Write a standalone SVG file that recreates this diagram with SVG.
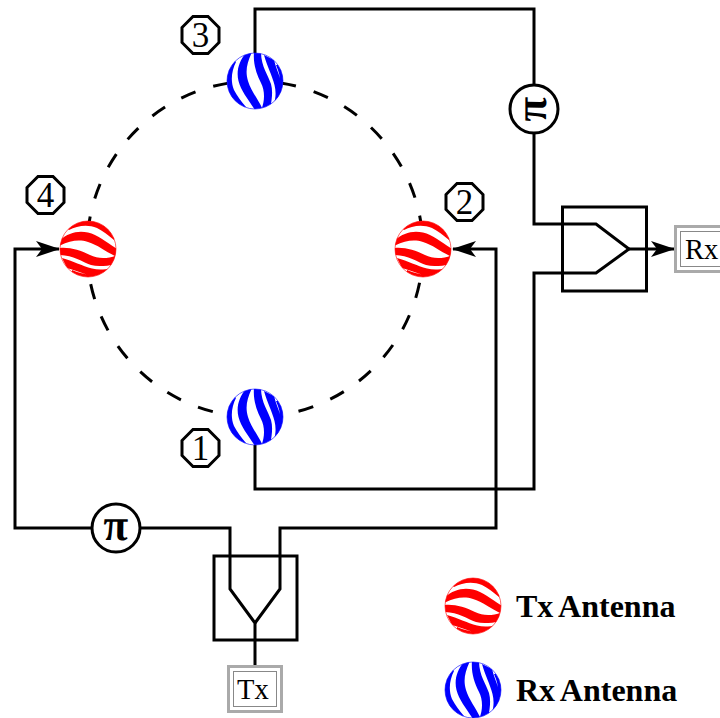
<svg xmlns="http://www.w3.org/2000/svg" width="720" height="718" viewBox="0 0 720 718">
<style>
.ln{fill:none;stroke:#000;stroke-width:3}
.oct{fill:#fff;stroke:#000;stroke-width:3}
.num{font:35px "Liberation Serif",serif;text-anchor:middle}
.pi{fill:#fff;stroke:#000;stroke-width:3}
.pit{font:italic bold 45px "Liberation Serif",serif;text-anchor:middle}
.o{fill:#fff;stroke:#aaa;stroke-width:3}
.i{fill:#fff;stroke:#888;stroke-width:1}
.lab{font:28.5px "Liberation Serif",serif}
.leg{font:bold 32px "Liberation Serif",serif;word-spacing:-1.500px}
</style>
<defs>
<clipPath id="c"><circle r="28"/></clipPath>
<g id="st" clip-path="url(#c)">
<circle r="28" fill="#fff"/>
<path d="M-28,-28L-19,-19C-11,-23 -1,-25 9,-21C15,-18 20,-14 26,-9L28,-28ZM-28,-9C-20,-16 -10,-19 0,-16.500C10,-14 18,-7 29,0L29,8C18,3 10,-4 0,-7C-10,-10 -18,-8 -29,-3ZM-29,-1C-18,-2 -8,1 2,6C10,10 20,10 29,6L29,15C18,17 10,18 3,16C-6,13 -15,6 -29,6ZM-26,9C-15,12 -6,17 4,19.500C10,21 16,21 23,19L17,26C10,27 5,27 0,26C-7,24 -13,21 -21,19ZM-16,21C-9,24 0,26.500 9,26L15,24L15,30L-16,30Z"/>
</g>
<g id="sp-r" fill="#f00"><use href="#st"/><circle r="28" fill="none" stroke="#f00" stroke-width=".6"/></g>
<g id="sp-b" fill="#00f"><use href="#st" transform="matrix(0 1 1 0 0 0)"/><circle r="28" fill="none" stroke="#00f" stroke-width=".6"/></g>
<marker id="ah" viewBox="0 0 24 16" refX="23" refY="8" markerWidth="24" markerHeight="16" markerUnits="userSpaceOnUse" orient="auto"><path d="M0,0L24,8L0,16L6,8Z"/></marker>
</defs>
<g id="ring"><circle cx="255" cy="249" r="168" fill="none" stroke="#000" stroke-width="3" stroke-dasharray="15.500 18.550"/></g>
<g id="connectors">
<path class="ln" d="M255,53V9H534V224H596L629,249L596,273H534V489H255V445"/>
<path class="ln" d="M629,249H674" marker-end="url(#ah)"/>
<path class="ln" d="M255,666V623L230,589V528H15V249H59" marker-end="url(#ah)"/>
<path class="ln" d="M255,623L280,589V528H496V249H453" marker-end="url(#ah)"/>
</g>
<g id="rx-split"><rect class="ln" x="562.500" y="207" width="84" height="84"/></g>
<g id="tx-split"><rect class="ln" x="214" y="556" width="83" height="84"/></g>
<g id="ant1"><use href="#sp-b" x="255" y="417"/></g>
<g id="ant2"><use href="#sp-r" x="423" y="249"/></g>
<g id="ant3"><use href="#sp-b" x="255" y="81"/></g>
<g id="ant4"><use href="#sp-r" x="88" y="249"/></g>
<g id="n1"><path class="oct" d="M193,429.500H208L219,440.500V455.500L208,466.500H193L182,455.500V440.500Z"/><text class="num" x="200.500" y="460">1</text></g>
<g id="n2"><path class="oct" d="M457,183.500H472L483,194.500V209.500L472,220.500H457L446,209.500V194.500Z"/><text class="num" x="464.500" y="214">2</text></g>
<g id="n3"><path class="oct" d="M193,16.500H208L219,27.500V42.500L208,53.500H193L182,42.500V27.500Z"/><text class="num" x="200.500" y="47">3</text></g>
<g id="n4"><path class="oct" d="M38,176.500H53L64,187.500V202.500L53,213.500H38L27,202.500V187.500Z"/><text class="num" x="45.500" y="207">4</text></g>
<g id="pi-rx"><circle class="pi" cx="534" cy="109" r="24"/><text class="pit" transform="translate(534 109) rotate(-90) skewX(9)" x="0" y="12">π</text></g>
<g id="pi-tx"><circle class="pi" cx="116" cy="528" r="24"/><text class="pit" transform="translate(116 528) skewX(9)" x="0" y="12">π</text></g>
<g id="rx"><rect class="o" x="675.500" y="226.500" width="54" height="45"/><rect class="i" x="680.500" y="231.500" width="44" height="35"/><text class="lab" x="685" y="259">Rx</text></g>
<g id="tx"><rect class="o" x="228.500" y="666.500" width="53" height="45"/><rect class="i" x="233.500" y="671.500" width="43" height="35"/><text class="lab" x="237" y="699">Tx</text></g>
<g id="legend-tx"><use href="#sp-r" x="473" y="606"/><text class="leg" x="516" y="617">Tx Antenna</text></g>
<g id="legend-rx"><use href="#sp-b" x="473" y="690"/><text class="leg" x="516" y="701">Rx Antenna</text></g>
</svg>
